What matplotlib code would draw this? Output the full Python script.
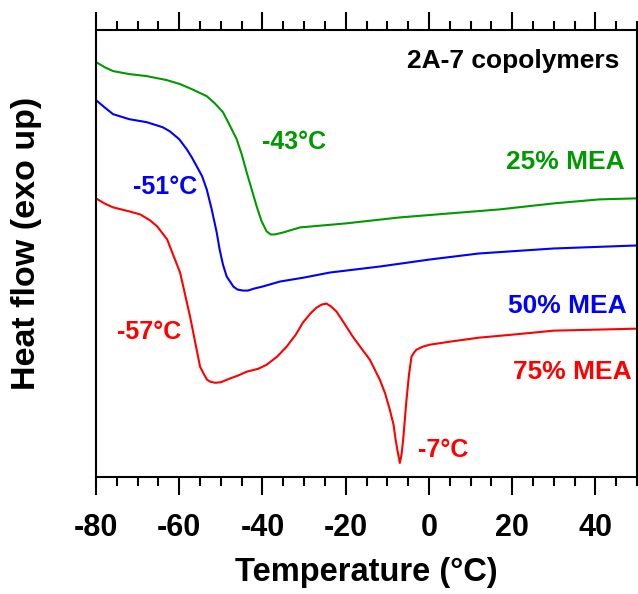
import matplotlib
matplotlib.use("Agg")
import matplotlib.pyplot as plt
from matplotlib.ticker import MultipleLocator

plt.rcParams['font.family'] = ['Liberation Sans', 'DejaVu Sans']
plt.rcParams['font.weight'] = 'bold'
plt.rcParams['axes.unicode_minus'] = False

# DSC traces (heat flow in arbitrary units, exo up)
t_25 = [-80, -78, -75.9, -72, -67.8, -63, -59.8, -57, -53.4, -51.5, -49.5, -48,
        -46.2, -45, -43.8, -41.4, -40.2, -39, -38, -37, -35, -31, -20, -7, 5,
        17, 30, 41, 50]
hf_25 = [4.14, 4.09, 4.05, 4.02, 4.00, 3.96, 3.92, 3.87, 3.80, 3.73, 3.64, 3.52,
         3.37, 3.22, 3.04, 2.70, 2.55, 2.45, 2.42, 2.42, 2.44, 2.49, 2.53, 2.59,
         2.63, 2.67, 2.73, 2.77, 2.78]

t_50 = [-80, -78, -75.9, -72, -67.8, -64, -62.3, -60, -58.2, -57, -55.8, -54.5,
        -53.4, -52.2, -51, -50.3, -49.5, -48.6, -47, -46, -44.7, -43.5, -42,
        -40, -35.8, -30, -23.8, -11.8, 0.2, 12, 30, 50]
hf_50 = [3.76, 3.69, 3.62, 3.57, 3.54, 3.49, 3.45, 3.37, 3.27, 3.19, 3.10, 3.00,
         2.87, 2.67, 2.44, 2.27, 2.12, 2.00, 1.90, 1.87, 1.86, 1.86, 1.88,
         1.90, 1.95, 1.99, 2.04, 2.10, 2.17, 2.23, 2.28, 2.31]

t_75 = [-80, -78, -75.9, -72, -69.4, -67, -65.3, -62.9, -61.5, -59.8, -58.6,
        -57.4, -56.2, -55, -54, -53.3, -52.5, -51.4, -50, -48, -46, -43.8, -41,
        -39, -36.5, -34.2, -32, -30.3, -28.5, -27, -25.8, -24.6, -23.5, -22.2,
        -20, -18.3, -16, -14.2, -13, -11.8, -10.5, -9.4, -8.5, -8, -7.5, -7,
        -6.6, -6.2, -5.8, -5.4, -4.8, -4.2, -3.6, -3, -1.5, 0.2, 5, 12, 20, 30,
        40, 50]
hf_75 = [2.78, 2.73, 2.69, 2.65, 2.62, 2.56, 2.50, 2.37, 2.22, 2.04, 1.82,
         1.60, 1.35, 1.10, 1.02, 0.97, 0.95, 0.94, 0.945, 0.98, 1.01, 1.05, 1.08,
         1.12, 1.20, 1.30, 1.42, 1.54, 1.63, 1.69, 1.72, 1.73, 1.70, 1.65,
         1.51, 1.40, 1.27, 1.17, 1.07, 0.97, 0.83, 0.67, 0.52, 0.37, 0.25, 0.14,
         0.22, 0.37, 0.57, 0.77, 1.02, 1.20, 1.24, 1.27, 1.30, 1.32, 1.35, 1.39,
         1.42, 1.46, 1.47, 1.48]

green = '#009900'
blue = '#0000ff'
red = '#ff0000'

fig = plt.figure(figsize=(6.38, 5.94), dpi=100)
ax = fig.add_axes([0.1505, 0.197, 0.848, 0.7525])

ax.plot(t_25, hf_25, color=green, lw=1.5)
ax.plot(t_50, hf_50, color=blue, lw=1.5)
ax.plot(t_75, hf_75, color=red, lw=1.5)

ax.set_xlim(-80, 50)
ax.set_ylim(0, 4.46)
ax.xaxis.set_major_locator(MultipleLocator(20))
ax.xaxis.set_minor_locator(MultipleLocator(5))
ax.set_yticks([])
ax.tick_params(axis='x', which='both', direction='out', top=True, bottom=True,
               width=1.5, labelsize=22, pad=13)
ax.tick_params(axis='x', which='major', length=13)
ax.tick_params(axis='x', which='minor', length=6.5)
for s in ax.spines.values():
    s.set_linewidth(1.5)

ax.set_xlabel('Temperature (°C)', fontsize=23.5, fontweight='bold', labelpad=10)
ax.set_ylabel('Heat flow (exo up)', fontsize=24.5, fontweight='bold')
ax.yaxis.set_label_coords(-0.1, 0.522)

ax.text(45.8, 4.15, '2A-7 copolymers', fontsize=19, ha='right', va='center')
ax.text(47.0, 3.14, '25% MEA', fontsize=19, color=green, ha='right', va='center')
ax.text(47.4, 1.71, '50% MEA', fontsize=19, color=blue, ha='right', va='center')
ax.text(48.6, 1.05, '75% MEA', fontsize=19, color=red, ha='right', va='center')
ax.text(-32.4, 3.34, '-43°C', fontsize=18, color=green, ha='center', va='center')
ax.text(-63.4, 2.89, '-51°C', fontsize=18, color=blue, ha='center', va='center')
ax.text(-67.3, 1.45, '-57°C', fontsize=18, color=red, ha='center', va='center')
ax.text(3.4, 0.27, '-7°C', fontsize=18, color=red, ha='center', va='center')

fig.savefig('out.png', dpi=100)
